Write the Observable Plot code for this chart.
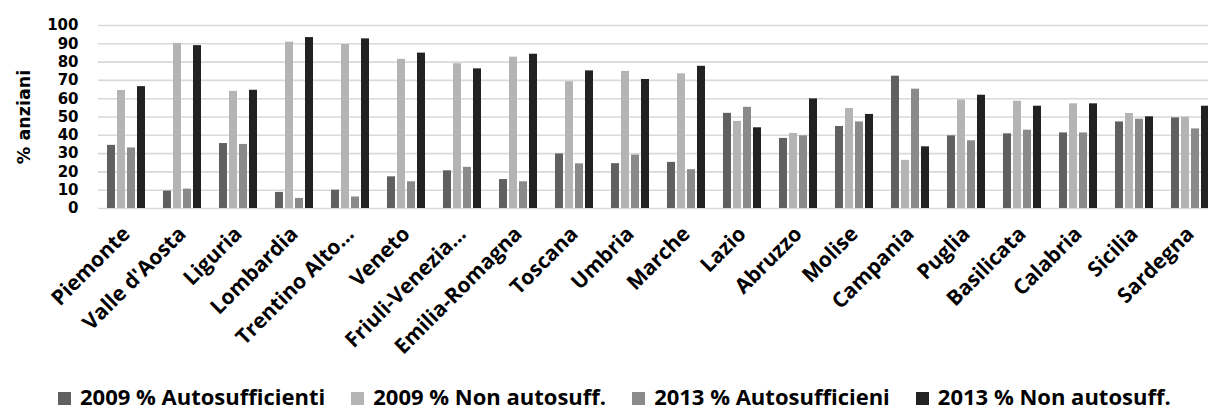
<!DOCTYPE html>
<html>
<head>
<meta charset="utf-8">
<script src="https://cdn.jsdelivr.net/npm/d3@7"></script>
<script src="https://cdn.jsdelivr.net/npm/@observablehq/plot@0.6"></script>
<style>
  html, body { margin: 0; padding: 0; background: #fff; }
  #wrap { position: relative; width: 1208px; height: 412px; overflow: hidden; }
  #chart svg { display: block; }
  #legend { position: absolute; left: 58px; top: 385px; font-family: "Open Sans", sans-serif; font-weight: 700; font-size: 22px; line-height: 22px; color: #000; white-space: nowrap; }
  #legend .sw { width: 13px; height: 13px; display: inline-block; vertical-align: baseline; margin-right: 9px; }
  #legend .lbl { margin-right: 26px; }
</style>
</head>
<body>
<div id="wrap">
<div id="chart"></div>
<div id="legend"></div>
</div>
<script>
const regions = ["Piemonte","Valle d'Aosta","Liguria","Lombardia","Trentino Alto…","Veneto","Friuli-Venezia…","Emilia-Romagna","Toscana","Umbria","Marche","Lazio","Abruzzo","Molise","Campania","Puglia","Basilicata","Calabria","Sicilia","Sardegna"];
const seriesNames = ["2009 % Autosufficienti","2009 % Non autosuff.","2013 % Autosufficieni","2013 % Non autosuff."];
const auto2009    = [34.5, 9.5, 35.5, 8.8, 10.0, 17.3, 20.6, 15.8, 29.8, 24.5, 25.2, 52.0, 38.3, 44.8, 72.3, 39.7, 40.8, 41.3, 47.3, 49.5];
const nonAuto2009 = [64.5, 90.2, 64.0, 90.9, 89.6, 81.5, 79.1, 82.7, 69.3, 74.9, 73.6, 47.6, 41.0, 54.6, 26.3, 59.3, 58.6, 57.2, 51.9, 49.9];
const auto2013    = [33.1, 10.6, 35.0, 5.5, 6.3, 14.6, 22.5, 14.6, 24.4, 29.2, 21.2, 55.3, 39.7, 47.3, 65.2, 37.0, 42.8, 41.3, 48.8, 43.5];
const nonAuto2013 = [66.6, 89.0, 64.6, 93.4, 92.7, 84.9, 76.3, 84.3, 75.2, 70.5, 77.7, 44.1, 59.9, 51.4, 33.7, 61.9, 55.9, 57.2, 50.1, 55.9];
const colors = ["#606060","#b4b4b4","#8a8a8a","#222222"];
const yTicks = [0,10,20,30,40,50,60,70,80,90,100];
const yLabel = "% anziani";

const seriesValues = [auto2009, nonAuto2009, auto2013, nonAuto2013];
const data = [];
regions.forEach((r, i) => {
  seriesNames.forEach((s, j) => data.push({region: r, series: s, value: seriesValues[j][i]}));
});

const chart = Plot.plot({
  width: 1208,
  height: 375,
  marginLeft: 98,
  marginRight: 0,
  marginTop: 25,
  marginBottom: 167,
  style: {fontFamily: "'DejaVu Sans', sans-serif", fontSize: "15px", fontWeight: "bold", color: "#000", background: "#fff", overflow: "visible"},
  fx: {domain: regions, range: [90, 1226], paddingInner: 0.25, paddingOuter: 0.25, label: null, axis: null},
  x: {domain: seriesNames, padding: 0.2, axis: null},
  y: {domain: [0, 100], axis: null},
  color: {domain: seriesNames, range: colors},
  marks: [
    Plot.ruleY(yTicks, {stroke: "#d9d9d9", strokeWidth: 1.6, insetLeft: -7, insetRight: -7}),
    Plot.axisY(yTicks, {anchor: "left", tickSize: 0, tickPadding: 27, label: null, fontSize: 15, fontWeight: "bold", fontFamily: "'DejaVu Sans', sans-serif", fill: "#000"}),
    Plot.axisFx({anchor: "bottom", tickRotate: -45, tickSize: 0, tickPadding: 22, label: null, fontSize: 21, fontWeight: "bold", fontFamily: "'Open Sans', sans-serif", fill: "#000"}),
    Plot.text([{region: regions[0], label: yLabel}], {fx: "region", text: "label", frameAnchor: "left", textAnchor: "middle", dx: -81, rotate: -90, fontSize: 17.5, fontWeight: "bold", fontFamily: "'DejaVu Sans', sans-serif", fill: "#000"}),
    Plot.barY(data, {fx: "region", x: "series", y: "value", fill: "series"})
  ]
});
document.getElementById("chart").appendChild(chart);

const legend = document.getElementById("legend");
seriesNames.forEach((s, j) => {
  const sw = document.createElement("span");
  sw.className = "sw";
  sw.style.background = colors[j];
  const t = document.createElement("span");
  t.className = "lbl";
  t.textContent = s;
  legend.appendChild(sw);
  legend.appendChild(t);
});
</script>
</body>
</html>
